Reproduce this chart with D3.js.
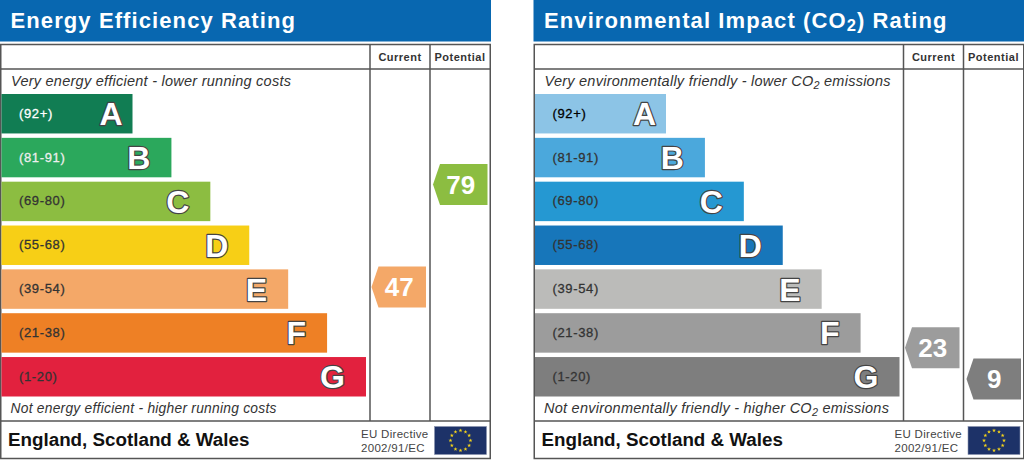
<!DOCTYPE html>
<html>
<head>
<meta charset="utf-8">
<script src="https://cdn.jsdelivr.net/npm/d3@7"></script>
<style>
    html, body { margin: 0; padding: 0; background: #fff; }
    svg { display: block; }
    text { font-family: "Liberation Sans", Arial, sans-serif; }
</style>
</head>
<body>
<div id="chart"></div>
<script>
const letters = ["A", "B", "C", "D", "E", "F", "G"];
const ranges = ["(92+)", "(81-91)", "(69-80)", "(55-68)", "(39-54)", "(21-38)", "(1-20)"];
const bandLows = [92, 81, 69, 55, 39, 21, 1];

const energyColors = ["#117d53", "#2ba85c", "#8cbd41", "#f7cf16", "#f4a868", "#ee8025", "#e2213e"];
const energyLabelColors = ["#fff", "#eee", "#333", "#333", "#333", "#333", "#333"];
const energyCurrent = 47;
const energyPotential = 79;

const envColors = ["#8cc4e6", "#4ba8dc", "#2598d2", "#1776ba", "#bbbbb9", "#9c9c9c", "#7e7e7e"];
const envLabelColors = ["#000", "#333", "#333", "#333", "#333", "#333", "#333"];
const envCurrent = 23;
const envPotential = 9;

const width = 1024;
const height = 460;
const panelWidth = 490;

const svg = d3.select("#chart").append("svg")
    .attr("width", width)
    .attr("height", height);

const y = d3.scaleBand()
    .domain(letters)
    .range([94, 396.5])
    .paddingInner(0.1)
    .paddingOuter(0);

// bar grows one step per letter
const barLength = d3.scaleLinear()
    .domain([0, letters.length - 1])
    .range([131, 364.5]);

// score -> y, piecewise through the bottom edge of each band
const scoreY = d3.scaleLinear()
    .domain(bandLows)
    .range(letters.map(l => y(l) + y.bandwidth()));

function bandIndex(score) {
    return bandLows.findIndex(low => score >= low);
}

function drawFlag(g, x, top) {
    const w = 52, h = 28;
    g.append("rect")
        .attr("x", x).attr("y", top)
        .attr("width", w).attr("height", h)
        .attr("fill", "#1d3268")
        .attr("stroke", "#8b93ad")
        .attr("stroke-width", 0.6);
    g.selectAll(".star")
        .data(d3.range(12))
        .join("path")
        .attr("class", "star")
        .attr("d", d3.symbol(d3.symbolStar, 5))
        .attr("fill", "#f2d21b")
        .attr("transform", d => {
            const a = d / 12 * 2 * Math.PI;
            return `translate(${x + w / 2 + 10 * Math.sin(a)},${top + h / 2 - 10 * Math.cos(a)})`;
        });
}

function drawArrow(g, score, colors, left, right) {
    const cy = scoreY(score);
    const half = 20.5;
    const line = d3.line();
    const color = colors[bandIndex(score)];
    g.append("path")
        .attr("d", line([[left + 7, cy - half], [right, cy - half], [right, cy + half], [left + 7, cy + half], [left, cy]]) + "Z")
        .attr("fill", color);
    g.append("text")
        .attr("x", (left + 7 + right) / 2 - 3)
        .attr("y", cy + 9.5)
        .attr("text-anchor", "middle")
        .attr("font-size", 26)
        .attr("font-weight", "bold")
        .attr("fill", "#fff")
        .text(score);
}

function addCo2(text, before, after) {
    text.append("tspan").text(before);
    text.append("tspan").attr("font-size", "0.75em").attr("dy", 3).text("2");
    text.append("tspan").attr("dy", -3).text(after);
}

function drawPanel(x0, opts) {
    const g = svg.append("g").attr("transform", `translate(${x0},0)`);

    g.append("rect")
        .attr("x", 0).attr("y", 0)
        .attr("width", panelWidth + 1).attr("height", 41.5)
        .attr("fill", "#0867b0");

    const title = g.append("text")
        .attr("x", 10.5).attr("y", 27.5)
        .attr("font-size", 22)
        .attr("font-weight", "bold")
        .attr("letter-spacing", 1.1)
        .attr("fill", "#fff");
    opts.title(title);

    // frame and columns
    g.append("rect")
        .attr("x", 0.75).attr("y", 44.5)
        .attr("width", panelWidth - 0.5).attr("height", 414)
        .attr("fill", "#fff")
        .attr("stroke", "#555")
        .attr("stroke-width", 1.5);
    [[0.75, panelWidth + 0.25, 69, 69], [0.75, panelWidth + 0.25, 421, 421], [370, 370, 44.5, 421], [430, 430, 44.5, 421]]
        .forEach(l => g.append("line")
            .attr("x1", l[0]).attr("x2", l[1])
            .attr("y1", l[2]).attr("y2", l[3])
            .attr("stroke", "#555")
            .attr("stroke-width", 1.5));

    [["Current", 400], ["Potential", 460]].forEach(h => g.append("text")
        .attr("x", h[1]).attr("y", 61)
        .attr("text-anchor", "middle")
        .attr("font-size", 11)
        .attr("font-weight", "bold")
        .attr("letter-spacing", 0.5)
        .attr("fill", "#333")
        .text(h[0]));

    const top = g.append("text")
        .attr("x", 11).attr("y", 86)
        .attr("font-size", opts.topSize)
        .attr("font-style", "italic")
        .attr("letter-spacing", 0.25)
        .attr("fill", "#333");
    opts.topNote(top);

    const bottom = g.append("text")
        .attr("x", 10.5).attr("y", 413)
        .attr("font-size", opts.bottomSize)
        .attr("font-style", "italic")
        .attr("letter-spacing", 0.25)
        .attr("fill", "#333");
    opts.bottomNote(bottom);

    const rows = g.selectAll(".band")
        .data(letters)
        .join("g")
        .attr("class", "band")
        .attr("transform", d => `translate(0,${y(d)})`);

    rows.append("rect")
        .attr("x", 1.5)
        .attr("width", (d, i) => barLength(i))
        .attr("height", y.bandwidth())
        .attr("fill", (d, i) => opts.colors[i]);

    // regular weight with a hairline stroke, the original is only semi bold
    rows.append("text")
        .attr("x", 19)
        .attr("y", y.bandwidth() / 2 + 4)
        .attr("font-size", 13)
        .attr("letter-spacing", 0.65)
        .attr("fill", (d, i) => opts.labelColors[i])
        .attr("stroke", (d, i) => opts.labelColors[i])
        .attr("stroke-width", 0.3)
        .text((d, i) => ranges[i]);

    rows.append("text")
        .attr("x", (d, i) => barLength(i) - (i === 0 ? 8.5 : 19.5))
        .attr("y", y.bandwidth() / 2 + 11.5)
        .attr("text-anchor", "end")
        .attr("font-size", 32)
        .attr("font-weight", "bold")
        .attr("fill", "#fff")
        .attr("stroke", "#444")
        .attr("stroke-width", 2.4)
        .attr("stroke-linejoin", "round")
        .attr("paint-order", "stroke")
        .text(d => d);

    drawArrow(g, opts.current, opts.colors, 371.5, 426);
    drawArrow(g, opts.potential, opts.colors, 433, 487.5);

    g.append("text")
        .attr("x", 8).attr("y", 446)
        .attr("font-size", 18.8)
        .attr("font-weight", "bold")
        .attr("fill", "#111")
        .text("England, Scotland & Wales");

    g.append("text")
        .attr("x", 361).attr("y", 438)
        .attr("font-size", 11.5)
        .attr("letter-spacing", 0.3)
        .attr("fill", "#444")
        .text("EU Directive");
    g.append("text")
        .attr("x", 361).attr("y", 452)
        .attr("font-size", 11.5)
        .attr("letter-spacing", 0.3)
        .attr("fill", "#444")
        .text("2002/91/EC");

    drawFlag(g, 434.5, 426.5);
}

drawPanel(0, {
    title: t => t.text("Energy Efficiency Rating"),
    topNote: t => t.text("Very energy efficient - lower running costs"),
    bottomNote: t => t.text("Not energy efficient - higher running costs"),
    topSize: 14.5,
    bottomSize: 13.8,
    colors: energyColors,
    labelColors: energyLabelColors,
    current: energyCurrent,
    potential: energyPotential
});

drawPanel(533.5, {
    title: t => addCo2(t, "Environmental Impact (CO", ") Rating"),
    topNote: t => addCo2(t, "Very environmentally friendly - lower CO", " emissions"),
    bottomNote: t => addCo2(t, "Not environmentally friendly - higher CO", " emissions"),
    topSize: 14.5,
    bottomSize: 14.5,
    colors: envColors,
    labelColors: envLabelColors,
    current: envCurrent,
    potential: envPotential
});
</script>
</body>
</html>
